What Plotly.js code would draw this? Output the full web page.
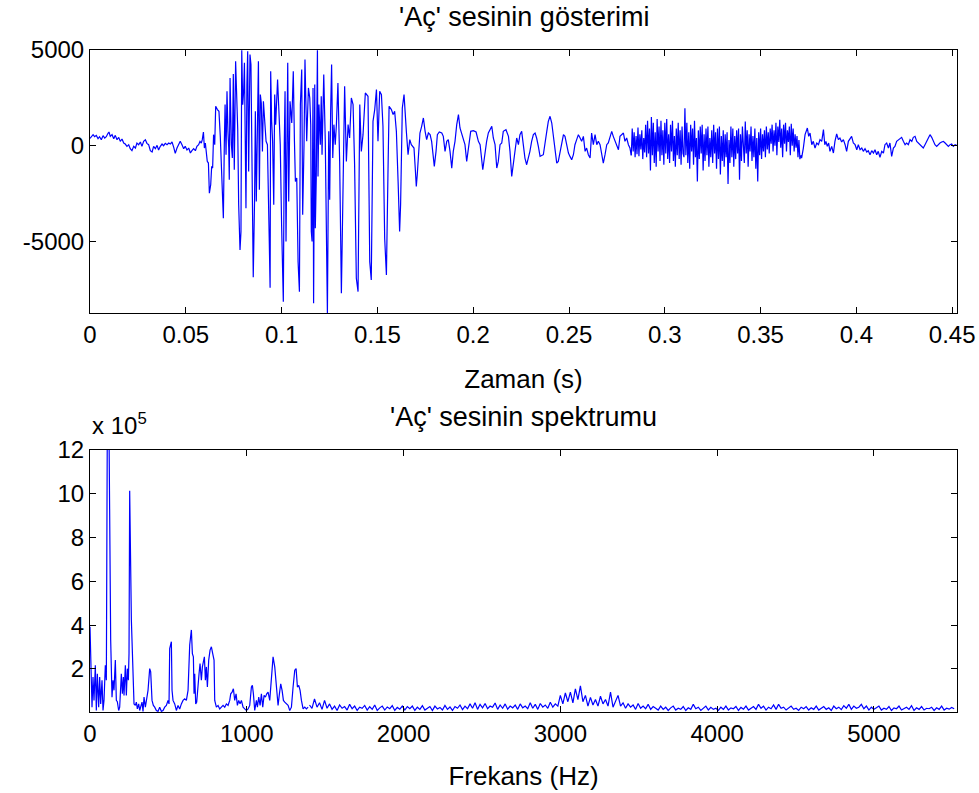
<!DOCTYPE html>
<html>
<head>
<meta charset="utf-8">
<script src="https://cdn.plot.ly/plotly-3.0.1.min.js"></script>
<style>html,body{margin:0;padding:0;background:#fff;}#chart{width:979px;height:793px;}</style>
</head>
<body>
<div id="chart"></div>
<script>
// ---------- Top: time signal ('Aç' sesinin gösterimi) ----------
const waveT = [0.0000,0.0007,0.0016,0.0024,0.0033,0.0042,0.0050,0.0059,0.0068,0.0077,0.0085,0.0094,0.0099,0.0106,0.0115,0.0124,0.0132,0.0141,0.0150,0.0158,0.0167,0.0176,0.0184,0.0193,0.0202,0.0210,0.0219,0.0228,0.0237,0.0245,0.0254,0.0263,0.0271,0.0280,0.0289,0.0297,0.0306,0.0315,0.0324,0.0332,0.0341,0.0350,0.0358,0.0367,0.0376,0.0384,0.0393,0.0402,0.0411,0.0419,0.0428,0.0437,0.0445,0.0454,0.0463,0.0471,0.0480,0.0489,0.0497,0.0506,0.0515,0.0524,0.0532,0.0541,0.0550,0.0558,0.0567,0.0574,0.0581,0.0586,0.0592,0.0597,0.0602,0.0607,0.0612,0.0618,0.0623,0.0630,0.0635,0.0640,0.0645,0.0651,0.0656,0.0665,0.0673,0.0680,0.0686,0.0691,0.0696,0.0701,0.0705,0.0710,0.0715,0.0720,0.0724,0.0727,0.0731,0.0738,0.0743,0.0748,0.0753,0.0760,0.0766,0.0771,0.0776,0.0783,0.0788,0.0792,0.0797,0.0802,0.0806,0.0811,0.0814,0.0819,0.0823,0.0828,0.0835,0.0840,0.0845,0.0852,0.0859,0.0863,0.0868,0.0873,0.0879,0.0884,0.0889,0.0894,0.0900,0.0905,0.0912,0.0919,0.0926,0.0931,0.0936,0.0940,0.0943,0.0948,0.0953,0.0959,0.0964,0.0969,0.0979,0.0986,0.0993,0.1000,0.1009,0.1014,0.1018,0.1023,0.1028,0.1032,0.1037,0.1044,0.1053,0.1061,0.1067,0.1072,0.1079,0.1086,0.1093,0.1098,0.1105,0.1110,0.1117,0.1122,0.1131,0.1140,0.1147,0.1152,0.1155,0.1159,0.1164,0.1167,0.1173,0.1176,0.1181,0.1187,0.1190,0.1195,0.1202,0.1207,0.1211,0.1220,0.1228,0.1233,0.1239,0.1246,0.1251,0.1256,0.1261,0.1267,0.1273,0.1280,0.1286,0.1294,0.1303,0.1312,0.1321,0.1329,0.1338,0.1347,0.1355,0.1364,0.1373,0.1381,0.1390,0.1399,0.1408,0.1416,0.1425,0.1437,0.1451,0.1460,0.1468,0.1477,0.1486,0.1495,0.1503,0.1512,0.1521,0.1529,0.1538,0.1547,0.1555,0.1561,0.1573,0.1582,0.1590,0.1599,0.1608,0.1616,0.1621,0.1630,0.1639,0.1646,0.1651,0.1660,0.1669,0.1677,0.1691,0.1698,0.1703,0.1708,0.1714,0.1722,0.1731,0.1740,0.1749,0.1757,0.1766,0.1775,0.1783,0.1792,0.1797,0.1806,0.1813,0.1823,0.1836,0.1844,0.1853,0.1862,0.1870,0.1879,0.1888,0.1896,0.1905,0.1914,0.1923,0.1931,0.1943,0.1957,0.1966,0.1975,0.1987,0.2001,0.2015,0.2027,0.2036,0.2050,0.2062,0.2070,0.2079,0.2097,0.2105,0.2114,0.2123,0.2131,0.2140,0.2149,0.2157,0.2171,0.2184,0.2192,0.2201,0.2210,0.2218,0.2227,0.2236,0.2244,0.2253,0.2262,0.2270,0.2279,0.2288,0.2296,0.2305,0.2314,0.2323,0.2331,0.2340,0.2349,0.2366,0.2375,0.2384,0.2392,0.2401,0.2410,0.2418,0.2427,0.2436,0.2444,0.2453,0.2462,0.2471,0.2479,0.2488,0.2497,0.2505,0.2514,0.2523,0.2531,0.2540,0.2549,0.2558,0.2566,0.2575,0.2584,0.2592,0.2601,0.2610,0.2618,0.2627,0.2636,0.2645,0.2653,0.2662,0.2671,0.2679,0.2688,0.2697,0.2705,0.2714,0.2723,0.2731,0.2740,0.2749,0.2758,0.2766,0.2775,0.2784,0.2792,0.2801,0.2810,0.2818,0.2825];
const waveV = [380,489,577,470,540,367,470,315,524,402,470,647,716,489,577,367,540,315,437,228,350,140,88,-34,53,-156,-261,-34,-122,140,53,193,-34,228,315,123,53,-261,-331,-34,-156,18,-226,-34,88,0,123,53,140,88,193,-87,-401,-122,53,228,53,-156,-34,-226,-122,-383,-261,-156,-261,-34,53,228,140,315,716,-122,140,-383,-820,-907,-2477,-2041,-1081,-1169,577,53,2060,1886,1798,489,-1343,-1692,-3786,53,2147,-471,2845,751,-122,-1779,3543,53,-645,3752,-1256,4416,2147,838,-3088,-5444,-4484,4990,2147,2845,4328,53,-3263,3194,4939,-1343,4765,4241,-1518,-6875,-2739,1798,-2914,53,4416,-2303,2670,2234,-296,2322,1275,228,53,-3786,-5182,-7416,3892,1275,228,-3088,2670,1100,3456,1798,53,-4135,-8149,53,2845,-5008,1798,4328,-2914,2322,1187,3892,228,-1867,-1692,-6055,-7625,2147,3979,-3612,53,4503,228,3020,2496,1100,-4484,-5008,3020,-8236,3194,-4310,-1692,4990,-1605,2147,53,2583,-471,3718,228,-4135,-8740,751,-2826,1798,4241,-645,1100,53,1100,3281,-820,-7712,-1692,3107,-820,1100,402,2496,2147,-994,-6927,-7625,2147,-296,577,2758,2583,-6055,-7014,1275,1886,2932,228,2845,2670,1013,-4833,-6753,-1518,2060,1886,1624,1798,751,-1867,-4484,-3088,1973,2670,1798,751,-471,315,53,-122,-1256,-2128,-1518,-471,664,1013,1449,751,315,664,577,228,-645,-1081,-296,577,716,664,489,-296,228,315,-296,-1169,-296,228,1100,1624,926,577,53,-820,-122,751,786,716,228,53,-1256,-296,228,664,1013,402,53,-1169,-820,53,140,751,838,489,-296,-1605,-994,-296,402,53,577,751,53,-645,-994,-645,-296,228,577,664,402,-34,-558,-471,53,751,1275,1536,1187,577,-296,-907,-820,-296,228,577,489,53,-383,-558,-732,-471,53,315,577,402,228,489,-296,-122,-471,-645,664,53,577,53,228,53,-471,-907,-471,53,140,402,751,489,228,53,-209,489,577,664,228,402,53,-122,-500];

// dense (noisy) part, uniformly sampled
const denseStartS = 0.2825;
const denseStepS = 0.0005;
const denseV = [-500,900,-300,700,-600,500,-450,950,-550,600,-200,800,-700,400,-350,1100,-600,1300,-400,900,-1300,1500,-500,1200,-900,700,-1100,1400,-300,1000,-800,1300,-500,800,-1000,1200,-400,1400,-700,600,-900,1100,-300,1300,-800,500,-1100,900,-500,1200,-700,800,-1000,1000,-400,-600,1950,-500,1200,-900,700,-1200,1100,-300,900,-1000,1300,-600,400,-1870,800,-700,1000,-400,1100,-1300,600,-800,900,-500,1000,-1100,400,-600,800,-900,1100,-400,700,-1200,900,-700,1000,-1500,500,-800,800,-1100,600,-600,700,-2000,300,-900,1000,-600,900,-1100,500,-700,800,-400,900,-1780,600,-800,1000,-500,-900,1270,-400,800,-1100,600,-300,1000,-800,500,-600,900,-1200,400,-1870,700,-500,900,-700,600,-300,800,-600,1000,-200,700,-400,900,100,1100,-300,800,0,1200,-500,1000,200,1360,-100,900,-600,1100,100,1200,-300,800,200,1000,-500,1150,0,900,-300,600,-100,500,-600,300,-700,-500];

const tailT = [0.3710,0.3714,0.3723,0.3732,0.3744,0.3751,0.3758,0.3767,0.3775,0.3784,0.3793,0.3802,0.3810,0.3819,0.3828,0.3835,0.3841,0.3848,0.3855,0.3862,0.3871,0.3880,0.3888,0.3897,0.3906,0.3914,0.3923,0.3932,0.3941,0.3949,0.3958,0.3967,0.3975,0.3984,0.3993,0.4002,0.4010,0.4019,0.4028,0.4036,0.4045,0.4054,0.4062,0.4071,0.4080,0.4089,0.4097,0.4106,0.4114,0.4123,0.4132,0.4141,0.4149,0.4158,0.4167,0.4175,0.4184,0.4193,0.4201,0.4210,0.4219,0.4228,0.4236,0.4245,0.4254,0.4262,0.4271,0.4280,0.4289,0.4297,0.4306,0.4315,0.4323,0.4332,0.4341,0.4349,0.4358,0.4367,0.4376,0.4384,0.4393,0.4402,0.4410,0.4419,0.4428,0.4436,0.4445,0.4454,0.4463,0.4471,0.4480,0.4489,0.4497,0.4506,0.4515,0.4523];
const tailV = [-500,-645,-122,577,926,489,664,53,228,-122,140,53,315,228,838,53,228,-34,140,-296,-34,-383,228,612,315,402,193,315,53,-296,228,402,489,140,53,-209,53,-209,-122,-296,-156,-331,-261,-471,-261,-383,-209,-471,-296,-610,-296,-383,53,140,-122,140,-558,-122,-34,228,315,402,437,228,53,140,53,315,228,437,489,228,140,53,-34,-122,53,228,402,577,437,228,53,-34,88,140,193,228,140,53,-34,53,88,-34,53,18];

// ---------- Bottom: spectrum ('Aç' sesinin spektrumu), values in units of 1e5 ----------
const specF = [0,4.3,12.8,19.1,25.5,34.0,40.4,46.8,55.3,61.7,68.1,76.6,83.0,89.3,97.8,104.2,110.6,119.1,127.6,131.9,140.4,146.8,153.1,161.6,168.0,174.4,182.9,189.3,199.9,206.3,212.7,217.0,225.5,231.8,238.2,244.6,248.9,253.1,263.8,274.4,280.8,289.3,295.7,302.0,310.5,316.9,323.3,331.8,338.2,344.6,353.1,361.6,370.1,380.7,387.1,395.6,404.1,412.6,423.3,433.9,444.5,455.2,465.8,476.4,487.1,497.7,504.1,508.3,519.0,523.2,529.6,540.3,550.9,561.5,572.2,582.8,593.4,604.1,614.7,625.3,636.0,646.6,653.0,659.4,663.6,667.9,674.3,680.6,689.1,695.5,701.9,710.4,716.8,723.2,729.6,735.9,742.3,748.7,757.2,765.7,774.2,782.7,791.2,795.5,806.1,816.8,827.4,838.0,848.7,859.3,869.9,880.6,891.2,897.6,906.1,914.6,923.1,931.6,940.1,948.6,957.1,965.7,976.3,986.9,997.6,1008.2,1018.8,1029.5,1035.8,1042.2,1050.7,1061.4,1067.8,1076.3,1084.8,1093.3,1101.8,1110.3,1118.8,1127.3,1135.8,1146.4,1157.1,1167.7,1178.4,1184.7,1191.1,1199.6,1208.1,1216.6,1225.2,1233.7,1242.2,1252.8,1263.4,1274.1,1284.7,1295.3,1306.0,1314.5,1323.0,1331.5,1340.0,1348.5,1359.2,1369.8,1380.4,1391.1];
const specV = [3.93,3.01,0.25,1.63,0.56,2.17,0.10,1.78,0.25,1.63,0.40,1.48,0.10,0.56,2.17,1.48,13.5,14.8,8.07,3.32,0.71,1.48,1.02,2.40,0.56,0.50,0.10,0.25,1.78,0.86,1.63,0.79,2.17,0.79,2.01,1.48,2.70,10.14,4.24,1.32,0.40,0.33,0.48,0.17,0.40,0.10,0.33,0.48,0.06,0.71,0.25,0.56,1.02,2.01,1.86,0.56,0.33,0.25,0.10,0.06,0.25,0.06,0.10,0.25,0.33,0.56,0.40,2.93,3.24,1.02,0.56,0.40,0.10,0.33,0.17,0.40,0.56,0.63,0.56,1.02,3.09,3.78,2.70,2.55,0.86,1.78,0.40,0.48,1.48,1.78,2.24,1.48,2.09,2.40,2.55,1.48,2.09,1.17,2.40,2.86,3.01,2.70,2.40,0.56,0.25,0.33,0.17,0.25,0.33,0.25,0.40,0.33,0.56,0.86,0.94,1.09,0.56,0.86,0.33,0.56,0.40,0.56,0.25,0.17,0.10,0.17,0.33,1.17,1.25,0.86,0.10,0.56,0.25,0.71,0.33,0.86,0.25,0.79,0.71,0.86,0.94,0.56,1.48,2.55,2.09,1.63,0.86,0.33,0.86,1.32,1.02,0.56,0.48,0.40,0.33,0.10,0.25,1.17,1.94,2.01,1.17,1.25,1.02,0.56,0.17,0.25,0.17,0.25];

// higher band, uniformly sampled bins
const baseStartHz = 1400;
const baseStepHz = 16;
const baseV = [0.35,0.2,0.63,0.25,0.45,0.15,0.56,
0.2,0.4,0.15,0.3,0.1,0.35,0.2,0.28,0.12,0.38,0.18,0.3,0.1,0.25,0.2,0.33,0.12,0.27,0.15,0.35,0.1,0.22,0.3,0.12,0.26,0.18,0.32,0.1,0.24,0.16,0.3,
0.12,0.28,0.18,0.3,0.1,0.25,0.15,0.32,0.12,0.22,0.28,0.1,0.3,0.17,0.24,0.12,0.33,0.15,0.26,0.1,0.28,0.2,0.35,0.14,0.3,0.18,0.4,0.2,0.45,0.15,0.38,0.22,0.42,0.18,0.3,0.25,0.44,0.15,0.35,0.2,0.4,0.16,0.3,0.22,
0.35,0.15,0.4,0.22,0.3,0.18,0.45,0.2,0.38,0.15,0.42,0.25,0.35,0.2,0.48,0.25,0.4,
0.3,0.79,0.4,0.9,0.5,0.94,0.45,1.09,0.6,1.22,
0.5,0.79,0.3,0.7,0.35,0.6,0.3,0.75,
0.4,0.6,0.3,0.94,0.25,0.5,0.79,0.3,
0.45,0.2,0.4,0.25,0.35,0.15,0.42,0.2,0.3,0.18,0.38,0.15,0.28,
0.2,0.12,0.3,0.15,0.25,0.1,0.22,0.3,0.12,0.2,0.15,0.28,0.1,
0.22,0.15,0.38,0.18,0.25,0.1,0.2,0.3,0.12,0.24,0.15,0.2,0.1,
0.25,0.15,0.3,0.12,0.22,0.18,0.28,0.1,0.24,0.16,0.3,0.12,0.2,
0.28,0.15,0.38,0.2,0.3,0.12,0.25,0.18,0.35,0.15,0.38,0.2,0.25,
0.12,0.22,0.3,0.15,0.2,0.1,0.25,0.18,0.28,0.12,0.22,0.15,0.3,
0.12,0.2,0.28,0.15,0.22,0.1,0.3,0.18,0.25,0.14,0.32,0.2,0.38,
0.15,0.3,0.2,0.25,0.38,0.18,0.3,0.12,0.25,0.15,0.22,0.3,0.12,
0.2,0.15,0.28,0.1,0.22,0.18,0.3,0.12,0.2,0.25,0.15,0.32,0.1,
0.22,0.15,0.28,0.12,0.2,0.18,0.25,0.1,0.22,0.15,0.3,0.12,0.2,0.16,0.24,0.18];

// tick labels
const topXTicks = [0,0.05,0.1,0.15,0.2,0.25,0.3,0.35,0.4,0.45];
const topXLabels = ['0','0.05','0.1','0.15','0.2','0.25','0.3','0.35','0.4','0.45'];
const topYTicks = [-5000,0,5000];
const topYLabels = ['-5000','0','5000'];
const botXTicks = [0,1000,2000,3000,4000,5000];
const botXLabels = ['0','1000','2000','3000','4000','5000'];
const botYTicks = [2,4,6,8,10,12];
const botYLabels = ['2','4','6','8','10','12'];

const titles = {top: "'Aç' sesinin gösterimi", bottom: "'Aç' sesinin spektrumu", xTop: 'Zaman (s)', xBot: 'Frekans (Hz)'};

const FONT = 'Liberation Sans, Arial, Helvetica, sans-serif';
const BLUE = 'rgb(0,0,255)';
const lineStyle = {color: BLUE, width: 1.2};

const traces = [
  {type:'scatter', mode:'lines', x: waveT, y: waveV, line: lineStyle, xaxis:'x', yaxis:'y', hoverinfo:'skip'},
  {type:'scatter', mode:'lines', x0: denseStartS, dx: denseStepS, y: denseV, line: lineStyle, xaxis:'x', yaxis:'y', hoverinfo:'skip'},
  {type:'scatter', mode:'lines', x: tailT, y: tailV, line: lineStyle, xaxis:'x', yaxis:'y', hoverinfo:'skip'},
  {type:'scatter', mode:'lines', x: specF, y: specV, line: lineStyle, xaxis:'x2', yaxis:'y2', hoverinfo:'skip'},
  {type:'scatter', mode:'lines', x0: baseStartHz, dx: baseStepHz, y: baseV, line: lineStyle, xaxis:'x2', yaxis:'y2', hoverinfo:'skip'}
];

const axisCommon = {
  showline: true, linecolor: '#000', linewidth: 1, mirror: 'ticks',
  ticks: 'inside', ticklen: 6, tickwidth: 1, tickcolor: '#000',
  showgrid: false, zeroline: false,
  tickfont: {family: FONT, size: 24, color: '#000'},
  tickmode: 'array', fixedrange: true
};
const xDom = [90/979, 957/979];

const layout = {
  width: 979, height: 793,
  margin: {l:0, r:0, t:0, b:0},
  paper_bgcolor: '#fff', plot_bgcolor: '#fff',
  showlegend: false,
  font: {family: FONT, color: '#000'},
  xaxis: Object.assign({}, axisCommon, {domain: xDom, anchor: 'y', range: [0, 0.4525], tickvals: topXTicks, ticktext: topXLabels,
    title: {text: titles.xTop, font: {family: FONT, size: 26, color:'#000'}, standoff: 23}}),
  yaxis: Object.assign({}, axisCommon, {domain: [(793-313)/793, (793-50)/793], anchor: 'x', range: [-8740, 5000], tickvals: topYTicks, ticktext: topYLabels}),
  xaxis2: Object.assign({}, axisCommon, {domain: xDom, anchor: 'y2', range: [0, 5530], tickvals: botXTicks, ticktext: botXLabels,
    title: {text: titles.xBot, font: {family: FONT, size: 26, color:'#000'}, standoff: 21}}),
  yaxis2: Object.assign({}, axisCommon, {domain: [(793-712)/793, (793-450)/793], anchor: 'x2', range: [0.03, 12], tickvals: botYTicks, ticktext: botYLabels}),
  annotations: [
    {text: titles.top, xref:'paper', yref:'paper', x: (90+957)/2/979, y: (793-17)/793, xanchor:'center', yanchor:'middle', showarrow:false, font:{family: FONT, size: 27, color:'#000'}},
    {text: titles.bottom, xref:'paper', yref:'paper', x: (90+957)/2/979, y: (793-417)/793, xanchor:'center', yanchor:'middle', showarrow:false, font:{family: FONT, size: 27, color:'#000'}},
    {text: 'x 10<sup>5</sup>', xref:'paper', yref:'paper', x: 90/979, y: (793-424)/793, xanchor:'left', yanchor:'middle', showarrow:false, font:{family: FONT, size: 24, color:'#000'}}
  ]
};

Plotly.newPlot('chart', traces, layout, {staticPlot: true, displayModeBar: false});
</script>
</body>
</html>
